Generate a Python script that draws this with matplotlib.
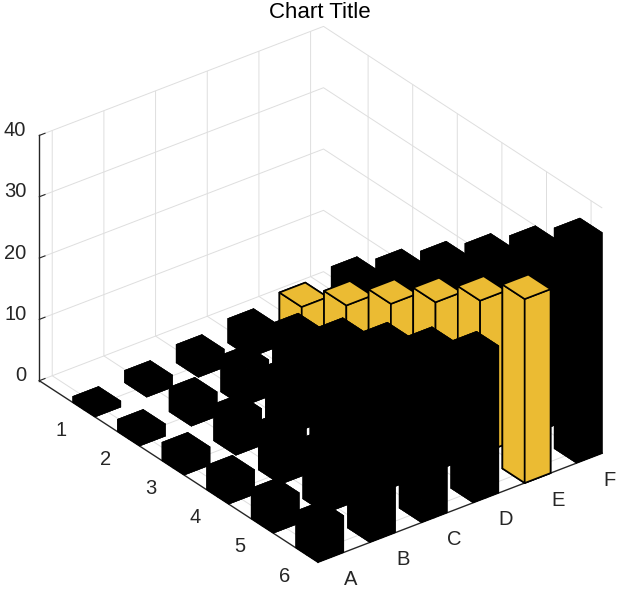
import matplotlib
matplotlib.use('Agg')
import matplotlib.pyplot as plt
import numpy as np
from mpl_toolkits.mplot3d import proj3d

plt.rcParams['font.family'] = ['Liberation Sans', 'DejaVu Sans']

# ---- data ----
row_labels = [1, 2, 3, 4, 5, 6]
col_labels = ['A', 'B', 'C', 'D', 'E', 'F']
values = [
    [1, 2, 3, 4, 5, 6],
    [2, 4, 6, 8, 10, 12],
    [3, 6, 9, 12, 15, 18],
    [4, 8, 12, 16, 20, 24],
    [5, 10, 15, 20, 25, 30],
    [6, 12, 18, 24, 30, 36],
]
highlight_col = 'E'
z_ticks = [0, 10, 20, 30, 40]
title = 'Chart Title'

# ---- style / layout ----
W, H = 617, 590
BAR_W = 0.5
BLACK = '#000000'
YELLOW = '#EBBB33'
TXT = '#262626'
GRID = '#DEDEDE'
TICK_FS = 14.5
XLIM = (0.75, 6.25)
YLIM = (0.0, 6.25)
ZLIM = (0, 40)

fig = plt.figure(figsize=(W / 100, H / 100), dpi=100)
ax = fig.add_axes([0.05, 0.05, 0.9, 0.9], projection='3d')
ax.set_proj_type('ortho')
ax.view_init(elev=30, azim=-127.5)
ax.set_box_aspect((358, 457.5, 283))
ax.set_xlim(*XLIM)
ax.set_ylim(YLIM[1], YLIM[0])
ax.set_zlim(*ZLIM)
ax.computed_zorder = False

for ri, r in enumerate(row_labels):
    for ci, c in enumerate(col_labels):
        x = ci + 1
        y = r
        h = values[ri][ci]
        hl = (c == highlight_col)
        depth = -39.6 * x + 58.0 * y
        ax.bar3d(x - BAR_W / 2, y - BAR_W / 2, 0, BAR_W, BAR_W, h,
                 color=YELLOW if hl else BLACK,
                 edgecolor=BLACK, linewidth=1.2 if hl else 0.3,
                 shade=False, zorder=10 + depth)

ax.set_xticks(range(1, len(col_labels) + 1))
ax.set_xticklabels([''] * len(col_labels))
ax.set_yticks(row_labels)
ax.set_yticklabels([''] * len(row_labels))
ax.set_zticks(z_ticks)
ax.set_zticklabels([''] * len(z_ticks))

for axis in (ax.xaxis, ax.yaxis, ax.zaxis):
    axis.set_pane_color((1, 1, 1, 0))
    axis.pane.set_edgecolor((1, 1, 1, 0))
    axis._axinfo['grid']['color'] = GRID
    axis._axinfo['grid']['linewidth'] = 0.7
    axis._axinfo['tick']['inward_factor'] = 0.0
    axis._axinfo['tick']['outward_factor'] = 0.25
    axis._axinfo['axisline']['color'] = TXT
    axis.line.set_color(TXT)
    axis.line.set_linewidth(1.0)
    axis.set_tick_params(colors=TXT, width=0.8)

fig.text(320 / W, 1 - 12 / H, title, ha='center', va='center',
         fontsize=16, color='#000000')

# ---- calibrate axes position so the box lands where the reference has it ----
target1 = np.array([39.3, 380.7])   # corner (xmin, ymin, 0)
target2 = np.array([602.0, 455.0])  # corner (xmax, ymax, 0)


def to_px(x, y, z):
    xs, ys, _ = proj3d.proj_transform(x, y, z, ax.get_proj())
    px, py = ax.transData.transform((xs, ys))
    return np.array([px, H - py])


for _ in range(3):
    fig.canvas.draw()
    p1 = to_px(XLIM[0], YLIM[0], 0)
    p2 = to_px(XLIM[1], YLIM[1], 0)
    bb = ax.get_position()
    side = bb.width * W
    x0 = bb.x0 * W
    y0 = bb.y0 * H
    s = np.linalg.norm(target2 - target1) / np.linalg.norm(p2 - p1)
    u1 = (p1[0] - x0) / side
    v1 = ((H - p1[1]) - y0) / side
    nside = side * s
    nx0 = target1[0] - u1 * nside
    ny0 = (H - target1[1]) - v1 * nside
    ax.set_position([nx0 / W, ny0 / H, nside / W, nside / H])

fig.canvas.draw()

# ---- tick labels, placed next to their projected tick positions ----
def put_label(p, dx, dy, s, ha='center'):
    fig.text((p[0] + dx) / W, 1 - (p[1] + dy) / H, s, ha=ha, va='center',
             fontsize=TICK_FS, color=TXT)

for ci, c in enumerate(col_labels):
    put_label(to_px(ci + 1, YLIM[1], 0), 20, 22, c)
for r in row_labels:
    put_label(to_px(XLIM[0], r, 0), -22.5, 21, str(r))
for z in z_ticks:
    put_label(to_px(XLIM[0], YLIM[0], z), -13, -5, str(z), ha='right')

fig.savefig('out.png', dpi=100)
